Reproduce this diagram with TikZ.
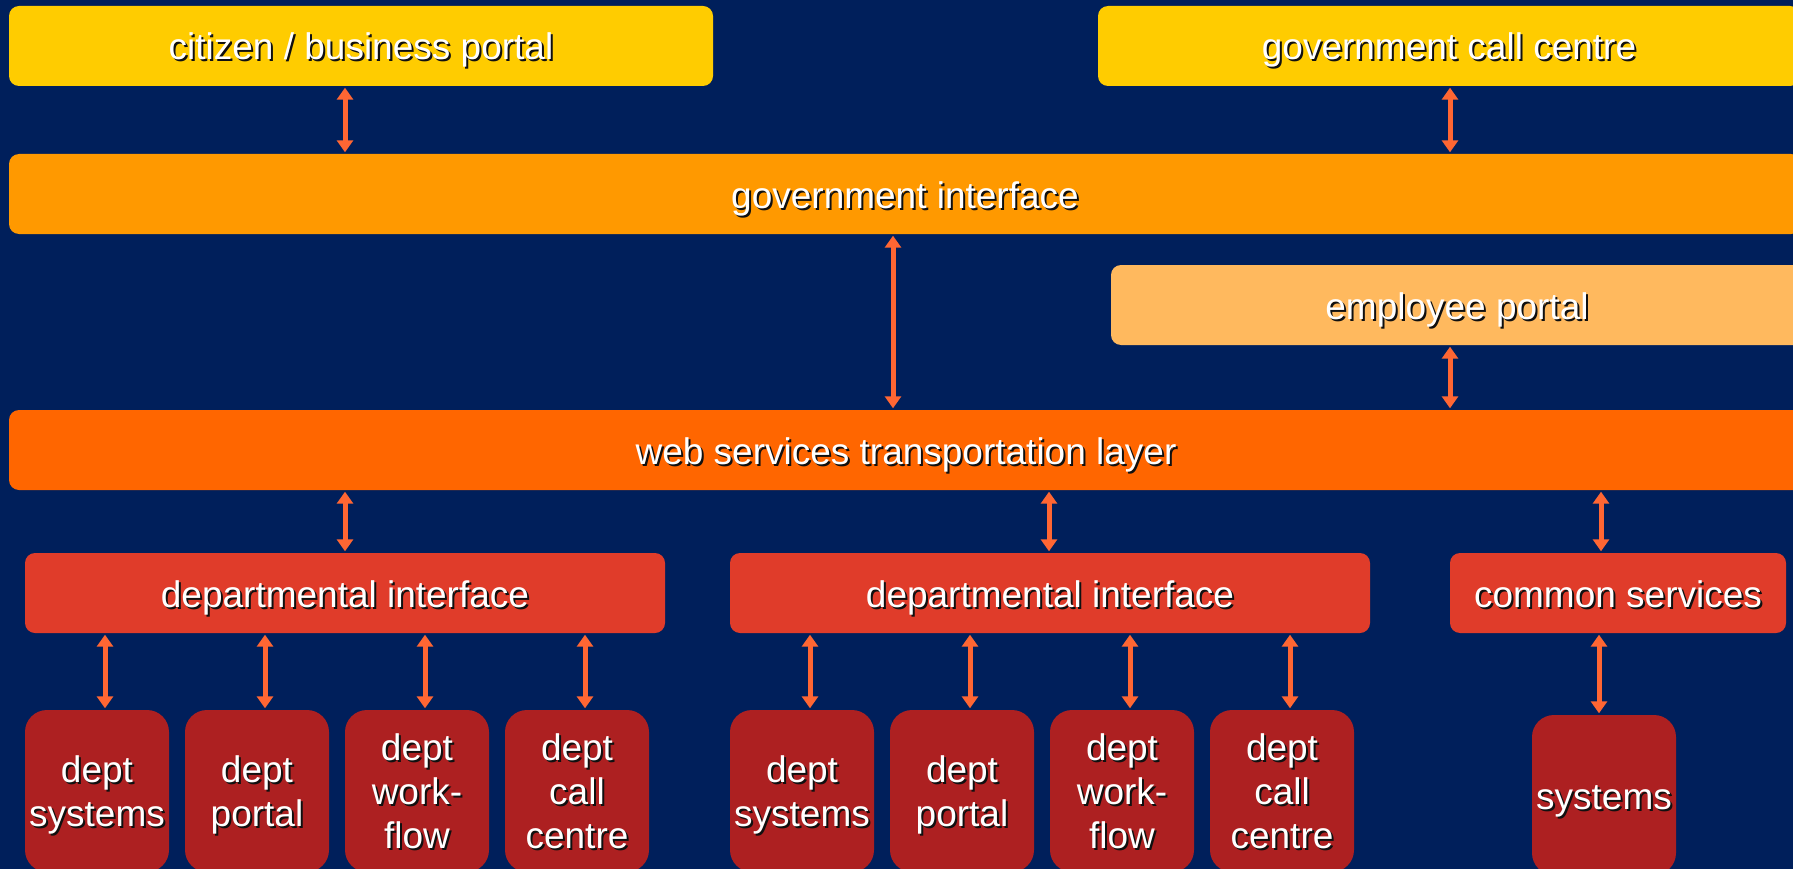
\documentclass[tikz,border=0pt]{standalone}
\usepackage{fontspec}
\setmainfont{Liberation Sans}
\usetikzlibrary{arrows.meta}
\definecolor{bgc}{HTML}{001F5B}
\definecolor{yellowc}{HTML}{FFCC00}
\definecolor{govc}{HTML}{FF9900}
\definecolor{empc}{HTML}{FFB95E}
\definecolor{webc}{HTML}{FF6600}
\definecolor{ifc}{HTML}{E03C2A}
\definecolor{deptc}{HTML}{AD2021}
\definecolor{arrc}{HTML}{FF6633}
\definecolor{shadowc}{HTML}{101010}
\newcommand\sh[1]{\rlap{\kern2pt\raisebox{-2pt}{\color{shadowc}#1}}#1}
\begin{document}
\begin{tikzpicture}[x=1pt,y=-1pt,
  box/.style={rounded corners=10pt, text=white, align=center, inner sep=0pt, anchor=center},
  wide/.style={box, font=\fontsize{37}{45}\selectfont, minimum height=80pt, text height=28pt, text depth=0pt},
  dept/.style={box, font=\fontsize{37}{44}\selectfont, fill=deptc, rounded corners=22pt, minimum width=144pt, minimum height=162pt, text depth=0pt},
  arr/.style={{Triangle[width=16pt,length=12pt]}-{Triangle[width=16pt,length=12pt]}, line width=5pt, draw=arrc, shorten >=1.5pt, shorten <=1.5pt}]
\useasboundingbox (0,0) rectangle (1793,869);
\clip (0,0) rectangle (1793,869);
\fill[bgc] (0,0) rectangle (1793,869);

% top row
\node[wide, fill=yellowc, minimum width=704pt] (citizen) at (361,46) {\sh{citizen / business portal}};
\node[wide, fill=yellowc, minimum width=702pt] (gcc) at (1449,46) {\sh{government call centre}};
\node[wide, fill=govc, minimum width=1792pt] (gov) at (905,194) {\sh{government interface}};
\node[wide, fill=empc, minimum width=692pt] (emp) at (1457,305) {\sh{employee portal}};
\node[wide, fill=webc, minimum width=1794pt] (web) at (906,450) {\sh{web services transportation layer}};

% departmental row
\node[wide, fill=ifc, minimum width=640pt] (di1) at (345,593) {\sh{departmental interface}};
\node[wide, fill=ifc, minimum width=640pt] (di2) at (1050,593) {\sh{departmental interface}};
\node[wide, fill=ifc, minimum width=336pt] (cs) at (1618,593) {\sh{common services}};

% bottom boxes
\node[dept] (d1) at (97,791) {\sh{dept}\\\sh{systems}};
\node[dept] (d2) at (257,791) {\sh{dept}\\\sh{portal}};
\node[dept] (d3) at (417,791) {\sh{dept}\\\sh{work-}\\\sh{flow}};
\node[dept] (d4) at (577,791) {\sh{dept}\\\sh{call}\\\sh{centre}};
\node[dept] (d5) at (802,791) {\sh{dept}\\\sh{systems}};
\node[dept] (d6) at (962,791) {\sh{dept}\\\sh{portal}};
\node[dept] (d7) at (1122,791) {\sh{dept}\\\sh{work-}\\\sh{flow}};
\node[dept] (d8) at (1282,791) {\sh{dept}\\\sh{call}\\\sh{centre}};
\node[dept, minimum height=160pt, text height=28pt] (sys) at (1604,795) {\sh{systems}};

% arrow columns
\coordinate (xa) at (345,0);
\coordinate (xb) at (1450,0);
\coordinate (xc) at (893,0);
\coordinate (xd) at (1049,0);
\coordinate (xe) at (1601,0);
\coordinate (xf) at (1599,0);

\draw[arr] (citizen.south -| xa) -- (gov.north -| xa);
\draw[arr] (gcc.south -| xb) -- (gov.north -| xb);
\draw[arr] (gov.south -| xc) -- (web.north -| xc);
\draw[arr] (emp.south -| xb) -- (web.north -| xb);
\draw[arr] (web.south -| xa) -- (di1.north -| xa);
\draw[arr] (web.south -| xd) -- (di2.north -| xd);
\draw[arr] (web.south -| xe) -- (cs.north -| xe);
\draw[arr] (cs.south -| xf) -- (sys.north -| xf);
\foreach \d in {d1,d2,d3,d4}
  \draw[arr] ([xshift=8pt]\d.north |- di1.south) -- ([xshift=8pt]\d.north);
\foreach \d in {d5,d6,d7,d8}
  \draw[arr] ([xshift=8pt]\d.north |- di2.south) -- ([xshift=8pt]\d.north);
\end{tikzpicture}
\end{document}
